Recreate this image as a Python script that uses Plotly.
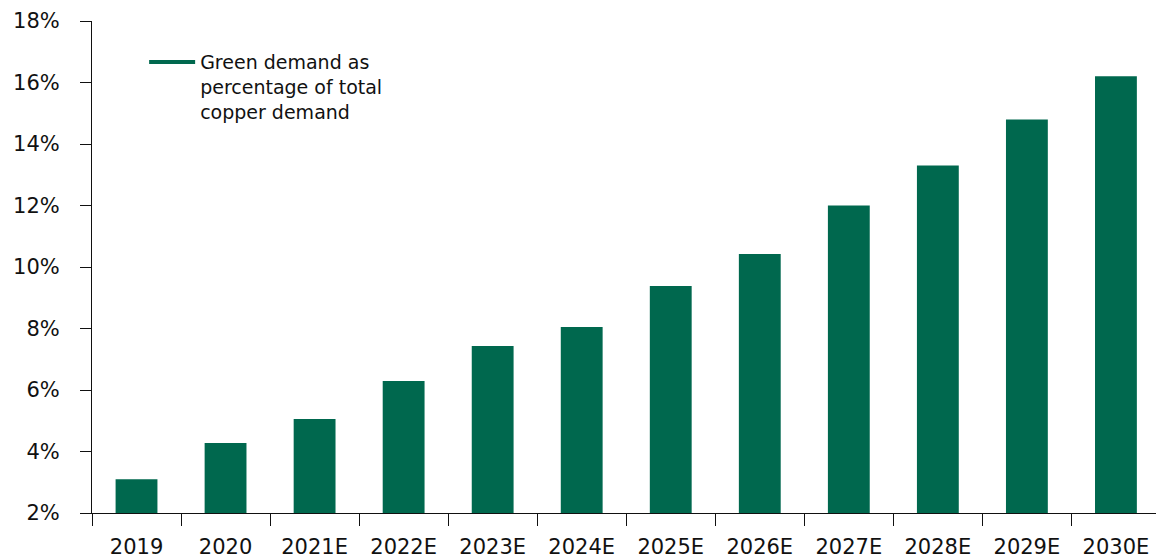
import plotly.graph_objects as go

categories = ["2019", "2020", "2021E", "2022E", "2023E", "2024E",
              "2025E", "2026E", "2027E", "2028E", "2029E", "2030E"]
green_share = [3.1, 4.28, 5.06, 6.29, 7.43, 8.05, 9.38, 10.42, 12.0, 13.3, 14.8, 16.2]
y_ticks = [2, 4, 6, 8, 10, 12, 14, 16, 18]
legend_label = "Green demand as<br>percentage of total<br>copper demand"

GREEN = "#00684E"
FONT = "DejaVu Sans, sans-serif"

fig = go.Figure()
fig.add_trace(go.Bar(x=categories, y=green_share, marker_color=GREEN,
                     marker_line_width=0, width=0.47, showlegend=False))
fig.add_trace(go.Scatter(x=[None], y=[None], mode="lines",
                         line=dict(color=GREEN, width=4),
                         name=legend_label, showlegend=True))

fig.update_layout(
    width=1156, height=558,
    margin=dict(l=92, r=0, t=21, b=45),
    paper_bgcolor="white", plot_bgcolor="white",
    font=dict(family=FONT, size=21, color="#111111"),
    bargap=0.53,
    legend=dict(x=0.049, y=0.955, xanchor="left", yanchor="top",
                valign="top", itemwidth=46,
                font=dict(size=19, family=FONT, color="#111111"),
                bgcolor="rgba(0,0,0,0)"),
)
fig.update_xaxes(type="category", range=[-0.5, 11.45],
                 showline=True, linecolor="#111111", linewidth=1,
                 ticks="outside", tickson="boundaries", ticklen=12,
                 tickcolor="#111111", showgrid=False,
                 tickfont=dict(size=21, family=FONT), ticklabelstandoff=15)
fig.update_yaxes(range=[2, 18], tickvals=y_ticks,
                 ticktext=[f"{v}%" for v in y_ticks],
                 showline=True, linecolor="#111111", linewidth=1,
                 ticks="outside", ticklen=11, tickcolor="#111111",
                 showgrid=False, zeroline=False,
                 tickfont=dict(size=21, family=FONT), ticklabelstandoff=16)

fig.write_html("out.html")
